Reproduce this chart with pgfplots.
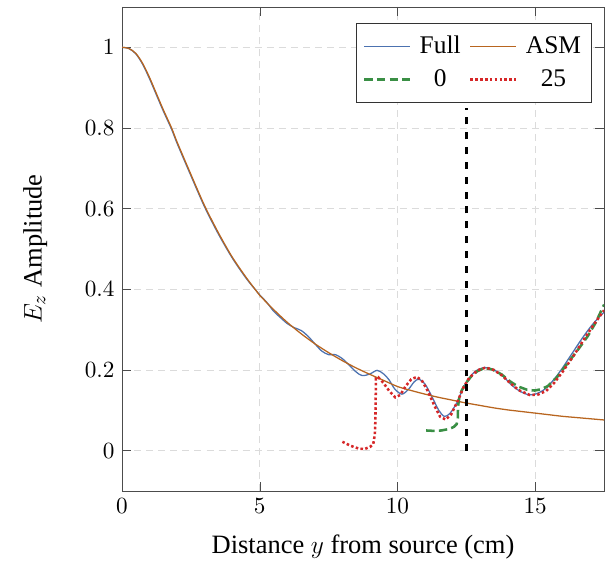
\documentclass[border=0pt]{standalone}
\usepackage{pgfplots}
\pgfplotsset{compat=1.18}
\usepackage{fontspec}
\setmainfont{Liberation Serif}
\definecolor{cfull}{HTML}{4C72B0}
\definecolor{casm}{HTML}{B8651F}
\definecolor{czero}{HTML}{3A8F45}
\definecolor{cred}{HTML}{D62728}
\begin{document}
\begin{tikzpicture}
\begin{axis}[
  scale only axis,
  width=227.6pt, height=228.5pt,
  xmin=0, xmax=17.5, ymin=-0.1, ymax=1.1,
  xtick={0,5,10,15},
  ytick={0,0.2,0.4,0.6,0.8,1},
  grid=major,
  major grid style={dash pattern=on 3.3pt off 2.4pt, gray!28},
  axis line style={black!70},
  tick style={black!70},
  xlabel={Distance $y$ from source (cm)},
  ylabel={$E_z$ Amplitude},
  label style={font=\fontsize{12.5}{14}\selectfont},
  tick label style={font=\fontsize{11}{13}\selectfont},
  xlabel style={at={(axis description cs:0.5,0)}, anchor=base, yshift=-29.7pt},
  ylabel style={at={(axis description cs:-0.18,0.5)}, anchor=center},
  legend columns=2,
  legend cell align=center,
  legend style={at={(0.975,0.967)}, anchor=north east, font=\fontsize{12}{14}\selectfont, draw=black!80, column sep=2pt, row sep=2pt, inner ysep=4pt},
  legend image code/.code={\draw[#1] (0cm,0cm) -- (0.76cm,0cm);},
]
\addplot[cfull, line width=0.6pt, smooth] coordinates {
(0,1.0) (0.25,0.997) (0.5,0.984) (0.75,0.958) (1,0.922) (1.25,0.882) (1.5,0.842) (1.8,0.797) (2,0.762) (2.5,0.682) (3,0.604) (3.5,0.537) (4,0.478) (4.5,0.428) (4.83,0.40) (5,0.386) (5.25,0.368) (5.5,0.346) (5.75,0.33) (6,0.315) (6.25,0.305) (6.5,0.298) (6.75,0.284) (7,0.265) (7.25,0.247) (7.5,0.238) (7.75,0.238) (8,0.228) (8.25,0.212) (8.5,0.195) (8.72,0.186) (9,0.19) (9.26,0.199) (9.5,0.19) (9.7,0.175) (9.9,0.153) (10.16,0.140) (10.4,0.152) (10.6,0.17) (10.77,0.177) (11,0.165) (11.25,0.134) (11.5,0.1) (11.7,0.085) (11.9,0.092) (12.15,0.118) (12.35,0.15) (12.51,0.171) (12.81,0.196) (13.15,0.206) (13.4,0.203) (13.66,0.194) (13.9,0.18) (14.14,0.163) (14.45,0.147) (14.74,0.139) (15.0,0.140) (15.34,0.152) (15.65,0.174) (15.94,0.2) (16.3,0.237) (16.67,0.275) (17.0,0.306) (17.25,0.326) (17.5,0.343)
};
\addlegendentry{Full}
\addplot[casm, line width=0.6pt, smooth] coordinates {
(0,1.0) (0.25,0.997) (0.5,0.985) (0.75,0.96) (1,0.925) (1.25,0.885) (1.5,0.845) (1.8,0.80) (2,0.765) (2.5,0.685) (3,0.607) (3.5,0.54) (4,0.48) (4.5,0.43) (4.83,0.40) (5,0.385) (5.5,0.35) (6,0.318) (6.5,0.29) (7,0.265) (7.5,0.243) (8,0.223) (8.5,0.205) (9,0.189) (9.5,0.174) (10,0.159) (10.5,0.149) (11,0.140) (11.5,0.132) (12,0.125) (12.5,0.118) (13,0.112) (13.5,0.106) (14,0.101) (14.5,0.097) (15,0.093) (15.5,0.089) (16,0.085) (16.5,0.082) (17,0.079) (17.5,0.076)
};
\addlegendentry{ASM}
\addplot[czero, line width=1.2pt, dash pattern=on 4pt off 2pt] coordinates {
(11.04,0.05) (11.3,0.049) (11.6,0.05) (11.9,0.054) (12.05,0.059) (12.15,0.066) (12.19,0.08) (12.2,0.11) (12.24,0.13) (12.33,0.149) (12.5,0.169) (12.69,0.185) (12.9,0.197) (13.17,0.205) (13.45,0.201) (13.78,0.189) (14.1,0.171) (14.38,0.159) (14.7,0.151) (14.98,0.149) (15.2,0.152) (15.46,0.16) (15.8,0.183) (16.18,0.217) (16.55,0.25) (16.91,0.284) (17.2,0.318) (17.5,0.362)
};
\addlegendentry{0}
\addplot[cred, line width=1.2pt, dash pattern=on 1.2pt off 1.1pt] coordinates {
(8.0,0.022) (8.3,0.012) (8.6,0.005) (8.8,0.004) (9.0,0.009) (9.12,0.016) (9.18,0.04) (9.2,0.08) (9.21,0.13) (9.22,0.18) (9.3,0.182) (9.5,0.167) (9.7,0.148) (9.92,0.132) (10.1,0.138) (10.3,0.16) (10.5,0.177) (10.71,0.183) (10.9,0.172) (11.1,0.148) (11.35,0.11) (11.55,0.084) (11.75,0.077) (11.95,0.09) (12.2,0.125) (12.4,0.157) (12.6,0.18) (12.9,0.199) (13.2,0.206) (13.5,0.2) (13.8,0.186) (14.1,0.167) (14.4,0.15) (14.8,0.138) (15.1,0.139) (15.4,0.148) (15.7,0.169) (16.0,0.196) (16.4,0.236) (16.8,0.279) (17.1,0.31) (17.5,0.348)
};
\addlegendentry{25}
\addplot[black, line width=1.3pt, dash pattern=on 3.3pt off 3.7pt, forget plot] coordinates {(12.5,0) (12.5,0.85)};
\end{axis}
\path (current axis.south west) ++(-57.6pt,-34.5pt) coordinate (bbsw);
\path (current axis.north east) ++(2.8pt,3.3pt) coordinate (bbne);
\path (bbsw) rectangle (bbne);
\end{tikzpicture}
\end{document}
